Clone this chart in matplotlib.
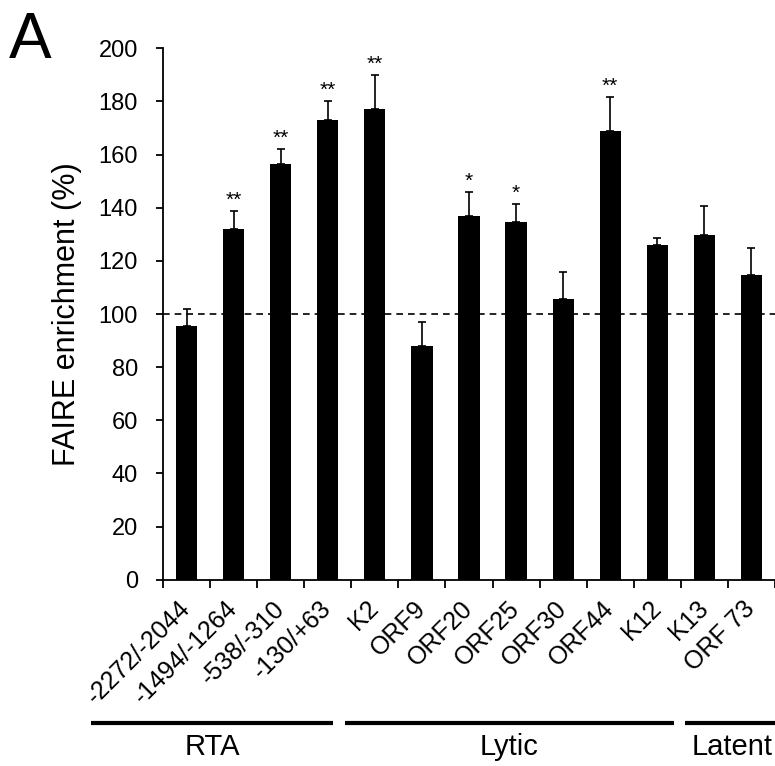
import matplotlib
matplotlib.use("Agg")
import matplotlib.pyplot as plt
import numpy as np

plt.rcParams["font.family"] = ["Liberation Sans", "DejaVu Sans"]

# data
labels = ["-2272/-2044", "-1494/-1264", "-538/-310", "-130/+63", "K2", "ORF9",
          "ORF20", "ORF25", "ORF30", "ORF44", "K12", "K13", "ORF 73"]
values = [95.5, 132, 156.6, 173, 177.3, 88, 136.8, 134.7, 105.5, 169, 125.8, 129.6, 114.7]
errors = [6.5, 6.8, 5.4, 7.0, 12.7, 9.0, 9.1, 6.7, 10.2, 12.7, 2.9, 11.0, 10.2]
stars = ["", "**", "**", "**", "**", "", "*", "*", "", "**", "", "", ""]
groups = ["RTA", "Lytic", "Latent"]
group_spans = [(-2.02, 3.11), (3.37, 10.35), (10.59, 12.6)]
reference = 100

fig = plt.figure(figsize=(7.75, 7.66), dpi=100)
ax = fig.add_axes([0.2103, 0.2432, 0.7897, 0.6937])

x = np.arange(len(labels))
ax.bar(x, values, width=0.45, color="black", zorder=2)
ax.errorbar(x, values, yerr=[np.zeros(len(errors)), errors], fmt="none",
            ecolor="black", elinewidth=1.2, capsize=3, capthick=1.2, zorder=3)
ax.axhline(reference, color="black", lw=1.2, ls=(0, (4, 3)), zorder=1)

for xi, v, e, s in zip(x, values, errors, stars):
    if s:
        ax.text(xi, v + e + 0.5, s, ha="center", va="bottom", fontsize=15)

ax.set_xlim(-0.5, len(labels) - 0.5)
ax.set_ylim(0, 200)
ax.set_yticks(np.arange(0, 201, 20))
ax.tick_params(axis="y", labelsize=17, length=5, width=1.3, direction="out", pad=13)

# ticks at category boundaries, labels at centres
ax.set_xticks(np.arange(-0.5, len(labels), 1.0))
ax.set_xticklabels([])
ax.tick_params(axis="x", length=6, width=1.3, direction="out")
ax.set_xticks(x, minor=True)
ax.set_xticklabels(labels, minor=True, rotation=45, ha="right", va="center",
                   rotation_mode="anchor", fontsize=18)
ax.tick_params(axis="x", which="minor", length=0, pad=18)

for side in ["top", "right"]:
    ax.spines[side].set_visible(False)
for side in ["left", "bottom"]:
    ax.spines[side].set_linewidth(1.3)

ax.set_ylabel("FAIRE enrichment (%)", fontsize=22, labelpad=12)

trans = ax.get_xaxis_transform()
for name, (x0, x1) in zip(groups, group_spans):
    ax.plot([x0, x1], [-0.27, -0.27], color="black", lw=3, transform=trans,
            clip_on=False, solid_capstyle="butt")
    ax.text((x0 + x1) / 2, -0.315, name, transform=trans, ha="center",
            va="center", fontsize=21)

fig.text(0.012, 0.985, "A", fontsize=46, ha="left", va="top")

fig.savefig("out.png", dpi=100)
